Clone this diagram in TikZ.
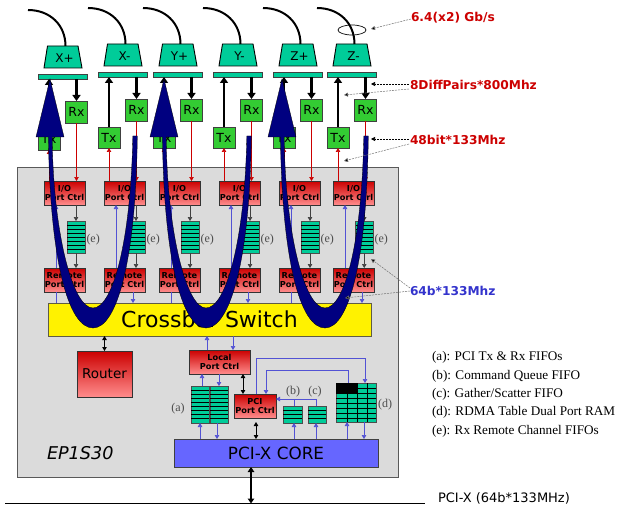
\documentclass[tikz,border=0pt]{standalone}
\usepackage{fontspec}
\setmainfont{DejaVu Sans}
\newfontfamily\legendfont{Liberation Serif}
\usetikzlibrary{arrows.meta}
\definecolor{teal1}{HTML}{00CC99}
\definecolor{grn}{HTML}{33CC33}
\definecolor{navy1}{HTML}{000080}
\definecolor{blu}{HTML}{3333CC}
\definecolor{rd}{HTML}{CC0000}
\definecolor{corebl}{HTML}{6666FF}
\tikzset{
 base/.style={inner sep=0pt,outer sep=0pt,align=center},
 chipbox/.style={base,draw=black!65,line width=.8pt,fill=black!14},
 portbox/.style={base,draw=black!75,line width=.9pt,fill=grn,font=\fontsize{12.5}{12.5}\selectfont},
 ctrl/.style={base,draw=black!80,line width=.8pt,top color=rd,bottom color=red!45!white,font=\fontsize{8.2}{9.4}\selectfont},
 barbox/.style={base,draw=black!75,line width=.9pt,fill=teal1},
 fifobox/.style={base,draw=black!70,line width=.8pt,fill=teal1},
 trap/.style={draw=black,line width=.9pt,fill=teal1},
 cable/.style={draw=black,line width=2pt},
 fat/.style={draw=black,line width=2.2pt,-{Triangle[length=6pt,width=8pt]}},
 thinblk/.style={draw=black!75,line width=.7pt,-{Triangle[length=4pt,width=4.5pt]}},
 dbl/.style={draw=black,line width=.8pt,{Triangle[length=4pt,width=4.5pt]}-{Triangle[length=4pt,width=4.5pt]}},
 redln/.style={draw=rd,line width=.6pt},
 redar/.style={redln,-{Triangle[length=4pt,width=4.5pt]}},
 bluln/.style={draw=blu!85,line width=.7pt},
 bluar/.style={bluln,-{Triangle[length=4pt,width=4.5pt]}},
 leader/.style={draw=black!55,line width=.5pt,dash pattern=on 2pt off 1pt,-{Triangle[length=4pt,width=4pt,fill=black]}},
 leaderk/.style={draw=black,line width=.6pt,dash pattern=on 2pt off 1pt,-{Triangle[length=4pt,width=4pt,fill=black]}},
 redtxt/.style={base,anchor=west,text=rd,font=\fontsize{12.2}{12.2}\selectfont\bfseries},
 legend/.style={base,anchor=west,font=\legendfont\fontsize{13.2}{14}\selectfont},
 eelabel/.style={base,text=black!70,font=\legendfont\fontsize{12}{12}\selectfont},
}
% box by corners: name, style, x1,y1,x2,y2, text
\newcommand\bx[7]{%
 \pgfmathsetmacro\bcx{((#3)+(#5))/2}\pgfmathsetmacro\bcy{((#4)+(#6))/2}%
 \pgfmathsetmacro\bwd{(#5)-(#3)}\pgfmathsetmacro\bht{(#6)-(#4)}%
 \node[#2,minimum width=\bwd pt,minimum height=\bht pt] (#1) at (\bcx,\bcy) {#7};}
% fifo: name,x1,y1,x2,y2,number of inner lines
\newcommand\fifo[6]{%
 \bx{#1}{fifobox}{#2}{#3}{#4}{#5}{}%
 \foreach \kk in {1,...,#6}{\pgfmathsetmacro\yy{#3+\kk*(#5-#3)/(#6+1)}\draw[black,line width=.8pt] (#2,\yy) -- (#4,\yy);}}
% crossing link: tip x, bottom x, right stem x
\newcommand\ushape[3]{%
 \fill[navy1,draw=black,line width=.3pt] (#1,79) -- (#1+14,137) -- (#1+2.2,137)
  .. controls (#1+3,230) and (#1+22,308) .. (#2,308)
  .. controls (#2+20,308) and (#3-4,240) .. (#3-2.2,136) -- (#3+2.3,136)
  .. controls (#3+1,260) and (#2+24,328) .. (#2,328)
  .. controls (#1+18,328) and (#1,260) .. (#1-1.6,137) -- (#1-14,137) -- cycle;}
\begin{document}
\begin{tikzpicture}[x=1pt,y=-1pt]
\useasboundingbox (0,0) rectangle (620,505);
\bx{chip}{chipbox}{17}{167}{398}{477}{}
\node[base,anchor=west,font=\fontsize{17.6}{17.6}\selectfont\itshape] (eplabel) at (47,453) {EP1S30};

% crossbar and central blocks
\bx{xbar}{base,draw=black!60!yellow!70!black,line width=.9pt,fill=yellow,font=\fontsize{22}{22}\selectfont}{48}{303}{371}{336}{Crossbar Switch}
\bx{router}{ctrl,font=\fontsize{13.5}{13.5}\selectfont}{77}{351}{132}{397}{Router}
\bx{local}{ctrl}{189}{350}{250}{374}{\textbf{Local}\\\textbf{Port Ctrl}}
\bx{pcictrl}{ctrl}{234}{394}{276}{418}{\textbf{PCI}\\\textbf{Port Ctrl}}
\bx{core}{base,draw=black!75,line width=.9pt,fill=corebl,font=\fontsize{16.8}{17}\selectfont}{174}{439}{378}{467}{PCI-X CORE}

% ports: index, label, bar left, y offset, fifo left, fifo right
\foreach \i/\lab/\Lx/\dy/\fa/\fb in {1/X+/38/2/67/85,2/X-/98/0/127/145,3/Y+/153/0/181/199,4/Y-/213/0/241/259,5/Z+/273/0/301/319,6/Z-/327/0/355.5/373}{
  \pgfmathsetmacro\tpl{\Lx+9.5}\pgfmathsetmacro\tpr{\Lx+40}\pgfmathsetmacro\btl{\Lx+6}\pgfmathsetmacro\btr{\Lx+44}
  \pgfmathsetmacro\tpy{44+\dy}\pgfmathsetmacro\bty{66+\dy}\pgfmathsetmacro\midx{\Lx+27.5}
  \pgfmathsetmacro\mmy{56+\dy}\pgfmathsetmacro\mmx{\Lx+26.5}
  \fill[trap,draw=black] (\tpl,\tpy) -- (\tpr,\tpy) -- (\btr,\bty) -- (\btl,\bty) -- cycle;
  \node[base,font=\fontsize{12}{12}\selectfont] (trap\i) at (\mmx,\mmy) {\lab};
  \pgfmathsetmacro\wxa{\Lx-10}\pgfmathsetmacro\wya{8+\dy}\pgfmathsetmacro\wxb{\Lx+12}\pgfmathsetmacro\wyb{23+\dy}
  \coordinate (wire\i) at (\wxa,\wya);
  \draw[cable] (wire\i) .. controls (\wxb,\wya) and (\midx,\wyb) .. (\midx,\tpy);
  \bx{bar\i}{barbox}{\Lx}{72+\dy}{\Lx+49.5}{77+\dy}{}
  \bx{rx\i}{portbox}{\Lx+27.5}{99+\dy}{\Lx+49.5}{121+\dy}{Rx}
  \bx{tx\i}{portbox}{\Lx}{127}{\Lx+22}{148+\dy}{Tx}
  \bx{io\i}{ctrl}{\Lx+6}{181}{\Lx+47}{205}{\textbf{I/O}\\\textbf{Port Ctrl}}
  \bx{rem\i}{ctrl}{\Lx+6}{268}{\Lx+47}{292}{\textbf{Remote}\\\textbf{Port Ctrl}}
  \fifo{ff\i}{\fa}{221}{\fb}{253}{7}
  \node[eelabel,anchor=west] (ee\i) at (\fb+1.5,240) {(e)};
  \draw[fat] (tx\i.north) -- (tx\i.north |- bar\i.south);
  \draw[fat] (rx\i.north |- bar\i.south) -- (rx\i.north);
  \draw[redar] (rx\i.south) -- (rx\i.south |- io\i.north);
  \draw[redar] (tx\i.south |- io\i.north) -- (tx\i.south);
  \draw[thinblk] (io\i.south -| ff\i.north) -- (ff\i.north);
  \draw[thinblk] (ff\i.south) -- (ff\i.south |- rem\i.north);
  \draw[bluar] ([xshift=12pt]rem\i.north west) -- ([xshift=12pt]io\i.south west);
}
\foreach \i in {1,3,5}{\draw[bluln] ([xshift=12pt]rem\i.south west) -- ([xshift=12pt]rem\i.south west |- xbar.north);}
\foreach \i in {2,4,6}{\draw[bluar] ([xshift=29pt]rem\i.south west) -- ([xshift=29pt]rem\i.south west |- xbar.north);}

% central fifos
\fifo{fa1}{191}{386}{209}{423}{8}
\fifo{fa2}{210}{386}{228}{423}{8}
\fifo{fifob}{283}{406}{302}{423}{3}
\fifo{fifoc}{308}{406}{326}{423}{3}
\node[eelabel] (la) at (178,408.5) {(a)};
\node[eelabel] (lb) at (293,392) {(b)};
\node[eelabel] (lc) at (315,392) {(c)};
\node[eelabel] (ld) at (385,405) {(d)};
% dual port RAM
\bx{ram}{fifobox}{336}{383}{376}{422}{}
\fill[black] (336,383) rectangle (357,393);
\foreach \xx in {347,357,367}{\draw[black,line width=.7pt] (\xx,383) -- (\xx,422);}
\foreach \yy in {388,393,398,403,408,413,418}{\draw[black,line width=.7pt] (336,\yy) -- (376,\yy);}

% links
\draw[dbl] (xbar.south -| router.north) -- (router.north);
\draw[bluar] (local.north -| 207,0) -- (xbar.south -| 207,0);
\draw[bluar] (xbar.south -| 233,0) -- (local.north -| 233,0);
\draw[bluar] (fa1.north -| 202,0) -- (local.south -| 202,0);
\draw[bluar] (local.south -| 219,0) -- (fa2.north -| 219,0);
\draw[dbl] (local.south -| 243,0) -- (pcictrl.north -| 243,0);
\coordinate (c1) at (256,422);
\draw[dbl] (c1) -- (core.north -| c1);
\coordinate (r1) at (256,358); \coordinate (r2) at (365,358);
\draw[bluar] (pcictrl.north -| r1) -- (r1) -- (r2) -- (ram.north -| r2);
\coordinate (r3) at (348,370); \coordinate (r4) at (266,370);
\draw[bluar] (ram.north -| r3) -- (r3) -- (r4) -- (pcictrl.north -| r4);
\coordinate (r5) at (316,399); 
\draw[bluar] (fifoc.north -| r5) -- (r5) -- (pcictrl.east |- r5);
\coordinate (r6) at (294,399);
\draw[bluln] (fifob.north -| r6) -- (r6);
\draw[bluar] (core.north -| 200,0) -- (fa1.south -| 200,0);
\draw[bluar] (fa2.south -| 217,0) -- (core.north -| 217,0);
\draw[bluar] (core.north -| r6) -- (fifob.south -| r6);
\draw[bluar] (core.north -| r5) -- (fifoc.south -| r5);
\draw[bluar] (core.north -| 347,0) -- (ram.south -| 347,0);
\draw[bluar] (ram.south -| 364,0) -- (core.north -| 364,0);

% PCI-X bus
\coordinate (busl) at (5,503.5); \coordinate (busr) at (425,503.5);
\draw[black,line width=1.4pt] (busl) -- (busr);
\draw[black,line width=2pt,{Triangle[length=5pt,width=6.5pt]}-{Triangle[length=5pt,width=6.5pt]}] (core.south -| 251,0) -- (busl -| 251,0);
\node[base,anchor=west,font=\fontsize{13}{13}\selectfont] (buslab) at (438,498) {PCI-X (64b*133MHz)};

% crossing links on top
\ushape{50}{93}{135}
\ushape{164}{206}{249}
\ushape{282}{325}{366}

% annotations
\draw[black,line width=.7pt] (352,30) ellipse [x radius=14, y radius=5];
\node[redtxt] (t1) at (411,18) {6.4(x2) Gb/s};
\node[redtxt] (t2) at (410,85) {8DiffPairs*800Mhz};
\node[redtxt] (t3) at (410,140) {48bit*133Mhz};
\node[base,anchor=west,text=blu,font=\fontsize{12.2}{12.2}\selectfont\bfseries] (t4) at (410,291) {64b*133Mhz};
\coordinate (a1) at (371,29); \draw[leader] (t1.west) ++(0,1) -- (a1);
\coordinate (a2) at (371,84); \draw[leaderk] (t2.west) ++(-1,-1) -- (a2);
\coordinate (a3) at (344,95); \draw[leader] (t2.west) ++(-1,4) -- (a3);
\coordinate (a4) at (371,139); \draw[leaderk] (t3.west) ++(-1,-1) -- (a4);
\coordinate (a5) at (344,161); \draw[leader] (t3.west) ++(-1,4) -- (a5);
\coordinate (a6) at (371,259); \draw[leader] (t4.west) ++(0,-3) -- (a6);
\coordinate (a7) at (345,298); \draw[leader] (t4.west) ++(0,0) -- (a7);

% legend
\node[legend] (l1) at (432,357) {(a): PCI Tx \& Rx FIFOs};
\node[legend] (l2) at (432,376) {(b): Command Queue FIFO};
\node[legend] (l3) at (432,394) {(c): Gather/Scatter FIFO};
\node[legend] (l4) at (432,412) {(d): RDMA Table Dual Port RAM};
\node[legend] (l5) at (432,431) {(e): Rx Remote Channel FIFOs};
\end{tikzpicture}
\end{document}
